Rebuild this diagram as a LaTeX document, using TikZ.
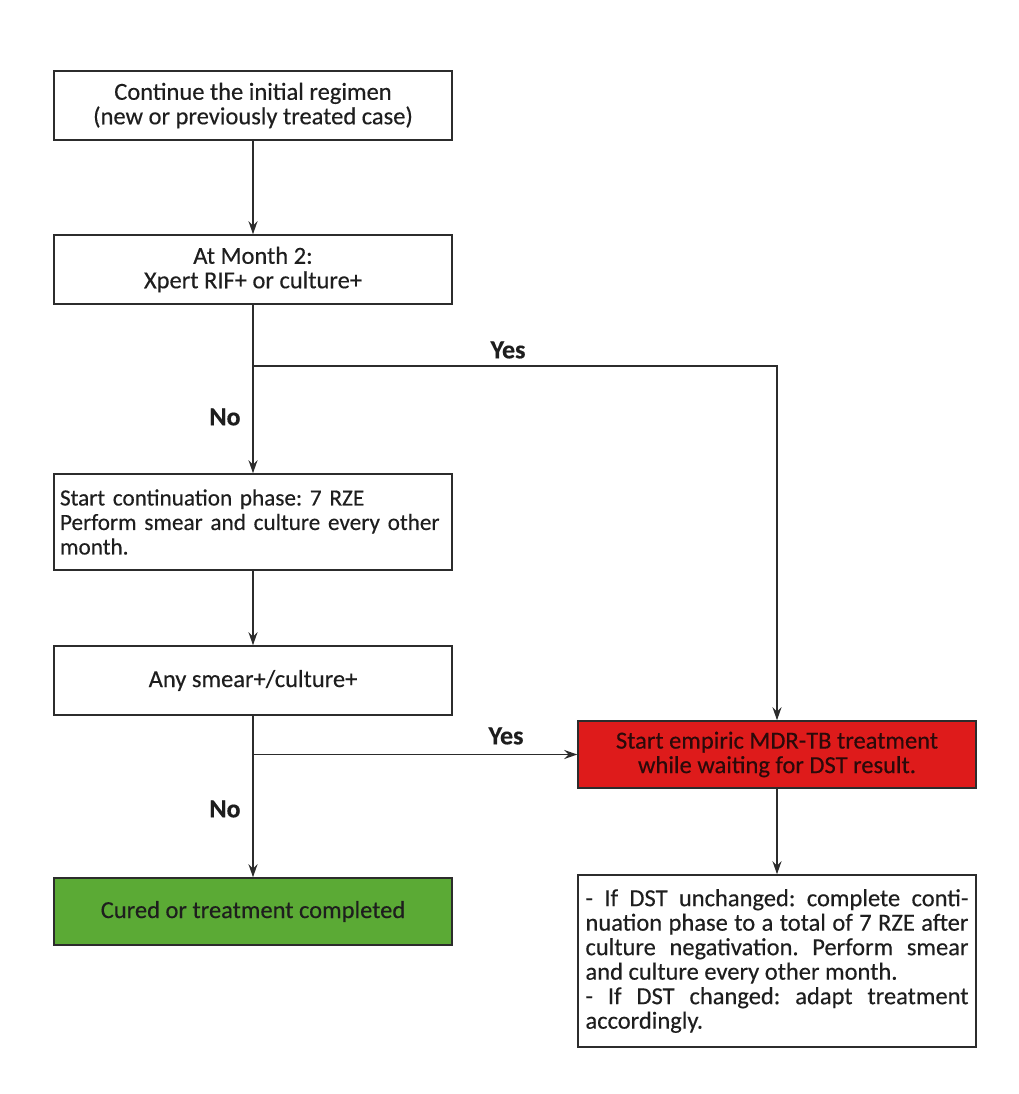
\documentclass[tikz,border=0pt]{standalone}
\usepackage{fontspec}
\setmainfont{Carlito}[FakeBold=0.35]
\usetikzlibrary{arrows.meta}
\definecolor{linec}{HTML}{2C2C2C}
\definecolor{textc}{HTML}{1E1E1E}
\definecolor{redtext}{HTML}{2A0A0A}
\definecolor{redfill}{HTML}{DE1B1B}
\definecolor{greenfill}{HTML}{5BAA35}
\frenchspacing
\begin{document}
\begin{tikzpicture}[x=1pt,y=-1pt,
  every node/.style={font=\fontsize{24.5}{24.5}\selectfont, text=textc},
  box/.style={draw=linec, line width=1.5pt, minimum width=398pt, inner sep=0pt, align=center},
  conn/.style={draw=linec, line width=1.5pt},
  arr/.style={conn, -{Stealth[length=13pt,width=9pt]}},
  lab/.style={font=\fontsize{26}{26}\selectfont\bfseries}
]
\useasboundingbox (0,0) rectangle (1018,1094);

\node[box, minimum height=69pt] (b1) at (253,105.5) {Continue the initial regimen\\(new or previously treated case)};
\node[box, minimum height=69pt] (b2) at (253,269.5) {At Month 2:\\Xpert RIF+ or culture+};
\node[box, minimum height=96pt, text width=386pt, align=left, inner xsep=6pt, font=\fontsize{23.2}{24.5}\selectfont] (b3) at (253,522) {Start continuation phase: 7 RZE\\Perform smear and culture every other\\month.};
\node[box, minimum height=69pt] (b4) at (253,680.5) {Any smear+/culture+};
\node[box, minimum height=67pt, fill=greenfill] (cure) at (253,911.5) {Cured or treatment completed};
\node[box, minimum height=67pt, fill=redfill, text=redtext] (mdr) at (777,754.5) {Start empiric MDR-TB treatment\\while waiting for DST result.};
\node[box, minimum height=172pt] (dst) at (777,961) {\parbox{383pt}{- If DST unchanged: complete conti-\linebreak nuation phase to a total of 7 RZE after\linebreak culture negativation. Perform smear\linebreak and culture every other month.\\- If DST changed: adapt treatment\linebreak accordingly.}};

\coordinate (j1) at (253,366);
\coordinate (j2) at (253,754.5);

\draw[arr] (b1) -- (b2);
\draw[arr] (b2) -- (b3);
\draw[arr] (j1) -| (mdr);
\draw[arr] (b3) -- (b4);
\draw[arr] (b4) -- (cure);
\draw[arr] (j2) -- (mdr);
\draw[arr] (mdr) -- (dst);

\node[lab] (yes1) at (508,350) {Yes};
\node[lab] (no1) at (225,417) {No};
\node[lab] (yes2) at (506,736) {Yes};
\node[lab] (no2) at (225,809) {No};
\end{tikzpicture}
\end{document}
